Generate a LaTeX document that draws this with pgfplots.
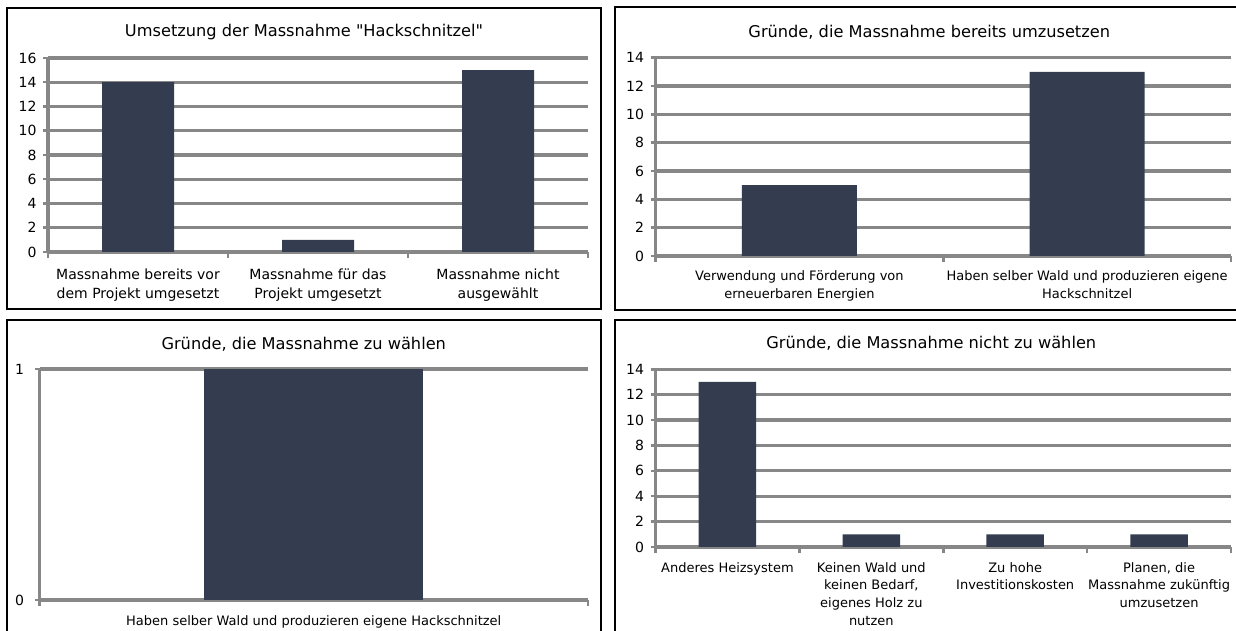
\documentclass[border=0pt]{standalone}
\usepackage{pgfplots}
\pgfplotsset{compat=1.18}
\usepackage{fontspec}
\setmainfont{DejaVu Sans}[Ligatures=TeXOff]
\definecolor{barc}{HTML}{343D4F}
\definecolor{gridc}{HTML}{878787}
\pgfplotsset{
  panel/.style={
    scale only axis,
    axis x line*=bottom, axis y line*=left,
    axis line style={gridc, line width=3.3pt},
    ymajorgrids,
    grid style={gridc, line width=3.3pt},
    ymin=0,
    xtick=data,
    major x tick style={draw=none},
    minor x tick style={gridc, line width=2.5pt},
    minor tick length=6pt,
    major tick length=5pt,
    tick align=outside,
    ytick style={gridc, line width=2.5pt},
    yticklabel style={font=\fontsize{14}{16}\selectfont, xshift=-3pt},
    xticklabel style={font=\fontsize{14}{17.5}\selectfont, align=center, anchor=north, inner sep=0pt},
    title style={font=\fontsize{16.2}{19}\selectfont, at={(0.5,1)}, anchor=base},
    enlargelimits=false,
    clip=false,
    /pgf/number format/assume math mode=true,
  },
  bars/.style={ybar, bar width=0.4, fill=barc, draw=none},
}
\begin{document}
\begin{tikzpicture}[x=1pt,y=1pt]
\path[use as bounding box] (0,0) rectangle (1236,631);
% frames
\draw[black, line width=2pt] (7,623) rectangle (601,321.5);
\draw[black, line width=2pt] (615,624) rectangle (1243,321);
\draw[black, line width=2pt] (7,311) rectangle (601,-30);
\draw[black, line width=2pt] (615,311) rectangle (1243,-30);

% Panel 1
\begin{axis}[panel, at={(48pt,379pt)}, anchor=south west,
  width=540pt, height=194pt, ymax=16, ytick={0,2,...,16},
  xmin=-0.5, xmax=2.5, minor xtick={-0.5,0.5,1.5,2.5},
  xticklabels={Massnahme bereits vor\\dem Projekt umgesetzt, Massnahme für das\\Projekt umgesetzt, Massnahme nicht\\ausgewählt},
  xticklabel style={yshift=-12pt, font=\fontsize{14}{18.5}\selectfont},
  title={Umsetzung der Massnahme "Hackschnitzel"}, title style={yshift=15pt, xshift=-14pt}]
\addplot[bars] coordinates {(0,14) (1,1) (2,15)};
\end{axis}

% Panel 2
\begin{axis}[panel, at={(655.5pt,375pt)}, anchor=south west,
  width=575.5pt, height=198.3pt, ymax=14, ytick={0,2,...,14},
  xmin=-0.5, xmax=1.5, minor xtick={-0.5,0.5,1.5},
  xticklabels={Verwendung und Förderung von\\erneuerbaren Energien, Haben selber Wald und produzieren eigene\\Hackschnitzel},
  xticklabel style={yshift=-9pt, font=\fontsize{13}{18}\selectfont},
  title={Gründe, die Massnahme bereits umzusetzen}, title style={yshift=14pt, xshift=-14pt}]
\addplot[bars] coordinates {(0,5) (1,13)};
\end{axis}

% Panel 3
\begin{axis}[panel, at={(39.5pt,31pt)}, anchor=south west,
  width=548.5pt, height=231pt, ymax=1, ytick={0,1},
  yticklabel style={xshift=-4pt},
  xmin=-0.5, xmax=0.5, minor xtick={-0.5,0.5},
  xticklabels={Haben selber Wald und produzieren eigene Hackschnitzel},
  xticklabel style={yshift=-10pt, font=\fontsize{13}{17}\selectfont},
  title={Gründe, die Massnahme zu wählen}, title style={yshift=13pt, xshift=-10pt}]
\addplot[bars] coordinates {(0,1)};
\end{axis}

% Panel 4
\begin{axis}[panel, at={(655.5pt,84pt)}, anchor=south west,
  width=575.5pt, height=177.7pt, ymax=14, ytick={0,2,...,14},
  xmin=-0.5, xmax=3.5, minor xtick={-0.5,0.5,1.5,2.5,3.5},
  xticklabels={{Anderes Heizsystem}, {Keinen Wald und\\keinen Bedarf,\\eigenes Holz zu\\nutzen}, {Zu hohe\\Investitionskosten}, {Planen, die\\Massnahme zukünftig\\umzusetzen}},
  xticklabel style={yshift=-10pt, font=\fontsize{13}{17.7}\selectfont},
  title={Gründe, die Massnahme nicht zu wählen}, title style={yshift=15pt, xshift=-12pt}]
\addplot[bars] coordinates {(0,13) (1,1) (2,1) (3,1)};
\end{axis}
\end{tikzpicture}
\end{document}
